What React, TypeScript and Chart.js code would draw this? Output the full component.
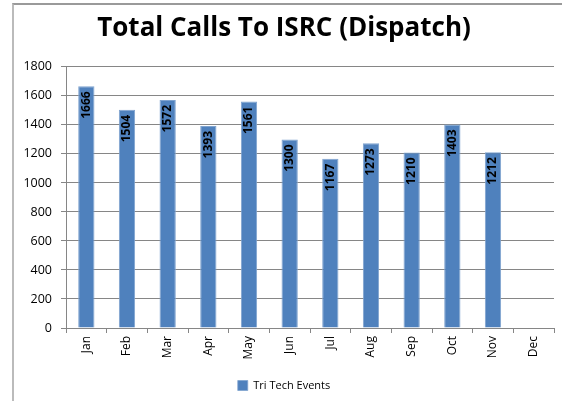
import React, { useEffect, useRef } from "react";
import { Chart, registerables } from "chart.js";

Chart.register(...registerables);

const categories = ["Jan", "Feb", "Mar", "Apr", "May", "Jun", "Jul", "Aug", "Sep", "Oct", "Nov", "Dec"];
const seriesName = "Tri Tech Events";
const values: (number | null)[] = [1666, 1504, 1572, 1393, 1561, 1300, 1167, 1273, 1210, 1403, 1212, null];
const titleText = "Total Calls To ISRC (Dispatch)";

const FONT = "'Open Sans', 'Noto Sans', sans-serif";

const barLabelPlugin = {
  id: "barLabels",
  afterDatasetsDraw(chart: any) {
    const ctx = chart.ctx;
    const meta = chart.getDatasetMeta(0);
    ctx.save();
    ctx.font = `bold 12px ${FONT}`;
    ctx.fillStyle = "#000";
    ctx.textAlign = "right";
    ctx.textBaseline = "middle";
    meta.data.forEach((bar: any, i: number) => {
      const v = values[i];
      if (v == null) return;
      ctx.save();
      ctx.translate(bar.x, bar.y + 5);
      ctx.rotate(-Math.PI / 2);
      ctx.fillText(String(v), 0, 0);
      ctx.restore();
    });
    ctx.restore();
  },
};

export default function App() {
  const ref = useRef<HTMLCanvasElement>(null);
  useEffect(() => {
    if (!ref.current) return;
    const chart = new Chart(ref.current, {
      type: "bar",
      data: {
        labels: categories,
        datasets: [
          {
            label: seriesName,
            data: values,
            backgroundColor: "#4F81BD",
            borderColor: "#7FA3CF",
            borderWidth: { left: 1, right: 1, top: 1, bottom: 0 } as any,
            barPercentage: 0.4,
            categoryPercentage: 1,
          },
        ],
      },
      options: {
        responsive: false,
        animation: false,
        devicePixelRatio: 1,
        layout: { padding: { left: 14, right: 8, top: 6, bottom: 0 } },
        plugins: {
          title: {
            display: true,
            text: titleText,
            color: "#000",
            font: { family: FONT, size: 26, weight: "bold", lineHeight: 1.15 },
            padding: { top: 8, bottom: 23 },
          },
          legend: {
            position: "bottom",
            labels: {
              boxWidth: 10,
              boxHeight: 10,
              color: "#000",
              font: { family: FONT, size: 11 },
              padding: 1,
            },
          },
          tooltip: { enabled: false },
        },
        scales: {
          x: {
            afterFit(scale: any) {
              scale.height = 51;
            },
            grid: {
              display: true,
              drawOnChartArea: false,
              offset: true,
              tickLength: 5,
              color: "#868686",
            },
            border: { color: "#868686" },
            ticks: {
              color: "#000",
              minRotation: 90,
              maxRotation: 90,
              padding: 3,
              font: { family: FONT, size: 12 },
            },
          },
          y: {
            min: 0,
            max: 1800,
            afterFit(scale: any) {
              scale.width = 52;
            },
            ticks: {
              stepSize: 200,
              color: "#000",
              padding: 9,
              font: { family: FONT, size: 12.5 },
              callback: (v: any) => String(v),
            },
            grid: { color: "#868686", tickLength: 5 },
            border: { color: "#868686" },
          },
        },
      },
      plugins: [barLabelPlugin],
    });
    return () => chart.destroy();
  }, []);

  return (
    <div style={{ position: "fixed", left: 0, top: 0, width: 562, height: 401, background: "#fff" }}>
      <canvas ref={ref} width={562} height={401} style={{ position: "absolute", left: 0, top: 0 }} />
      <div style={{ position: "absolute", left: 12, top: 3, width: 550, height: 398, borderLeft: "2px solid #BBBBBB", borderTop: "2px solid #9A9A9A" }} />
    </div>
  );
}
